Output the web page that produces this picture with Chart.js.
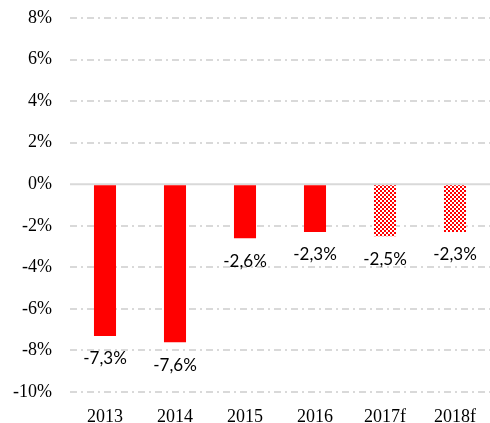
<!DOCTYPE html>
<html><head><meta charset="utf-8">
<script src="https://cdn.jsdelivr.net/npm/chart.js@4/dist/chart.umd.min.js"></script>
<style>html,body{margin:0;padding:0;background:#fff}#wrap{width:490px;height:423px}</style>
</head><body><div id="wrap"><canvas id="c"></canvas></div>
<script>
const categories = ['2013','2014','2015','2016','2017f','2018f'];
const values = [-7.3,-7.6,-2.6,-2.3,-2.5,-2.3];
const forecast = [false,false,false,false,true,true];
const yTicks = [-10,-8,-6,-4,-2,0,2,4,6,8];

function makePattern(){
  const p=document.createElement('canvas');p.width=4;p.height=4;
  const g=p.getContext('2d');
  g.fillStyle='#ff0000';g.fillRect(0,0,4,4);
  g.fillStyle='#ffffff';g.fillRect(0,0,2,2);g.fillRect(2,2,2,2);
  return document.getElementById('c').getContext('2d').createPattern(p,'repeat');
}
const pat=makePattern();

const fmt=v=>(v.toFixed(1).replace('.',','))+'%';

const plugin={
  id:'extras',
  beforeDatasetsDraw(chart){
    const y=chart.scales.y, a=chart.chartArea, ctx=chart.ctx;
    const p=y.getPixelForValue(0);
    ctx.save();ctx.strokeStyle='#d9d9d9';ctx.lineWidth=2;
    ctx.beginPath();ctx.moveTo(a.left,p);ctx.lineTo(a.right,p);ctx.stroke();ctx.restore();
  },
  afterDatasetsDraw(chart){
    const ctx=chart.ctx, meta=chart.getDatasetMeta(0);
    ctx.save();ctx.font='17px Lato, "Open Sans", sans-serif';ctx.fillStyle='#000';
    ctx.textAlign='center';ctx.textBaseline='middle';
    meta.data.forEach((el,i)=>{ctx.fillText(fmt(values[i]),el.x,el.y+23);});
    ctx.restore();
  }
};

new Chart(document.getElementById('c'),{
  type:'bar',
  data:{labels:categories,datasets:[{data:values,
    backgroundColor:values.map((v,i)=>forecast[i]?pat:'#ff0000'),
    barPercentage:0.63,categoryPercentage:0.5}]},
  options:{responsive:true,maintainAspectRatio:false,animation:false,
    layout:{padding:{top:0,right:0,left:0,bottom:0}},
    plugins:{legend:{display:false},tooltip:{enabled:false}},
    scales:{
      x:{grid:{display:false},border:{display:false},
        afterFit(s){s.height=31;},
        ticks:{color:'#000',font:{family:'"Liberation Serif", serif',size:18},padding:6}},
      y:{min:-10,max:8,afterBuildTicks(s){s.ticks=yTicks.map(v=>({value:v}));},
        afterFit(s){s.width=70;s.paddingTop=18;},
        border:{display:false,dash:[7,4,2,4]},
        grid:{color:c=>c.tick&&c.tick.value===0?'rgba(0,0,0,0)':'#d9d9d9',lineWidth:2,drawTicks:false},
        ticks:{color:'#000',font:{family:'"Liberation Serif", serif',size:18},padding:18,callback:v=>v+'%'}}
    }
  },
  plugins:[plugin]
});
</script></body></html>
